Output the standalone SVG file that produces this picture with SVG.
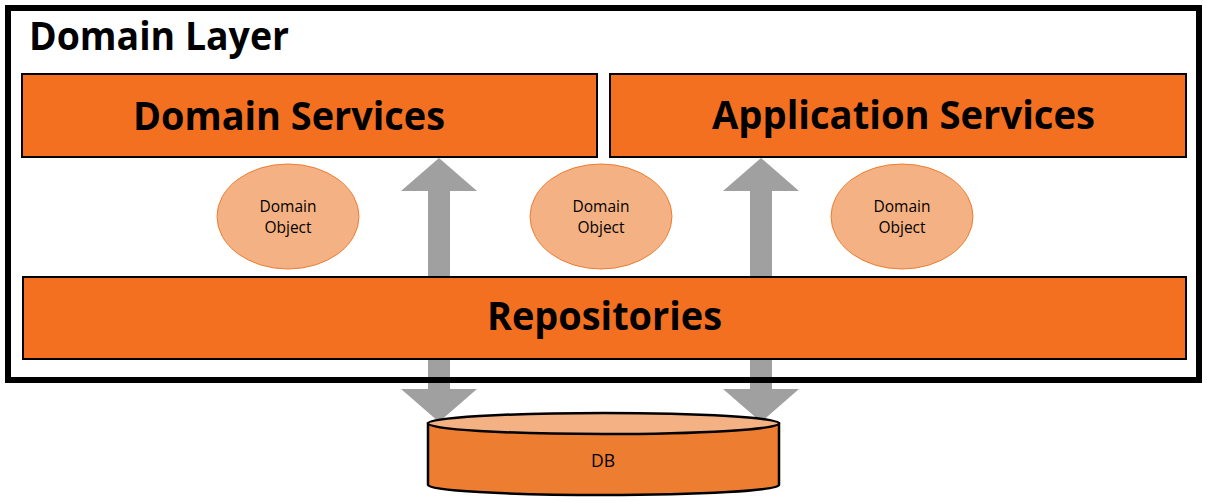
<svg xmlns="http://www.w3.org/2000/svg" width="1207" height="502" viewBox="0 0 1207 502">
<style>
.box{fill:#F37021;stroke:#000;stroke-width:2}
.big{font-family:"Open Sans","Liberation Sans",sans-serif;font-weight:bold;font-size:39.5px;fill:#000}
.obj{fill:#F4B183;stroke:#ED7D31;stroke-width:1}
.small{font-family:"Open Sans","Liberation Sans",sans-serif;font-size:15.5px;fill:#000;text-anchor:middle}
.arrow{fill:#A0A0A0}
.frame{fill:none;stroke:#000;stroke-width:6}
</style>
<rect x="0" y="0" width="1207" height="502" fill="#fff"/>
<g id="domain-services">
<rect class="box" x="22" y="74" width="575" height="83"/>
<text class="big" x="133" y="130" textLength="312" lengthAdjust="spacingAndGlyphs">Domain Services</text>
</g>
<g id="application-services">
<rect class="box" x="610" y="74" width="576" height="83"/>
<text class="big" x="712" y="129" textLength="383" lengthAdjust="spacingAndGlyphs">Application Services</text>
</g>
<g id="domain-object-1">
<ellipse class="obj" cx="288" cy="216.5" rx="71" ry="52.5"/>
<text class="small" x="288" y="212">Domain</text>
<text class="small" x="288" y="233">Object</text>
</g>
<g id="domain-object-2">
<ellipse class="obj" cx="601" cy="216.5" rx="71" ry="52.5"/>
<text class="small" x="601" y="212">Domain</text>
<text class="small" x="601" y="233">Object</text>
</g>
<g id="domain-object-3">
<ellipse class="obj" cx="902" cy="216.5" rx="71" ry="52.5"/>
<text class="small" x="902" y="212">Domain</text>
<text class="small" x="902" y="233">Object</text>
</g>
<g id="connectors">
<path class="arrow" d="M439,158 L477,191 L450,191 L450,389 L477,389 L439,422 L401,389 L428,389 L428,191 L401,191 Z"/>
<path class="arrow" d="M761,158 L799,191 L772,191 L772,389 L799,389 L761,422 L723,389 L750,389 L750,191 L723,191 Z"/>
</g>
<g id="repositories">
<rect class="box" x="23" y="277" width="1163" height="82"/>
<text class="big" x="487" y="330" textLength="235" lengthAdjust="spacingAndGlyphs">Repositories</text>
</g>
<g id="domain-layer">
<rect class="frame" x="8" y="8" width="1191" height="372"/>
<text class="big" x="29" y="50" textLength="260" lengthAdjust="spacingAndGlyphs">Domain Layer</text>
</g>
<g id="db">
<path d="M428,423.5 L428,485 A175.5,10 0 0 0 779,485 L779,423.5 Z" fill="#ED7D31" stroke="#000" stroke-width="2.5"/>
<ellipse cx="603.5" cy="423.5" rx="175.5" ry="10.5" fill="#F4B183" stroke="#000" stroke-width="2.5"/>
<text x="603" y="467" font-family="'Open Sans','Liberation Sans',sans-serif" font-size="17.5" text-anchor="middle" fill="#000">DB</text>
</g>
</svg>
